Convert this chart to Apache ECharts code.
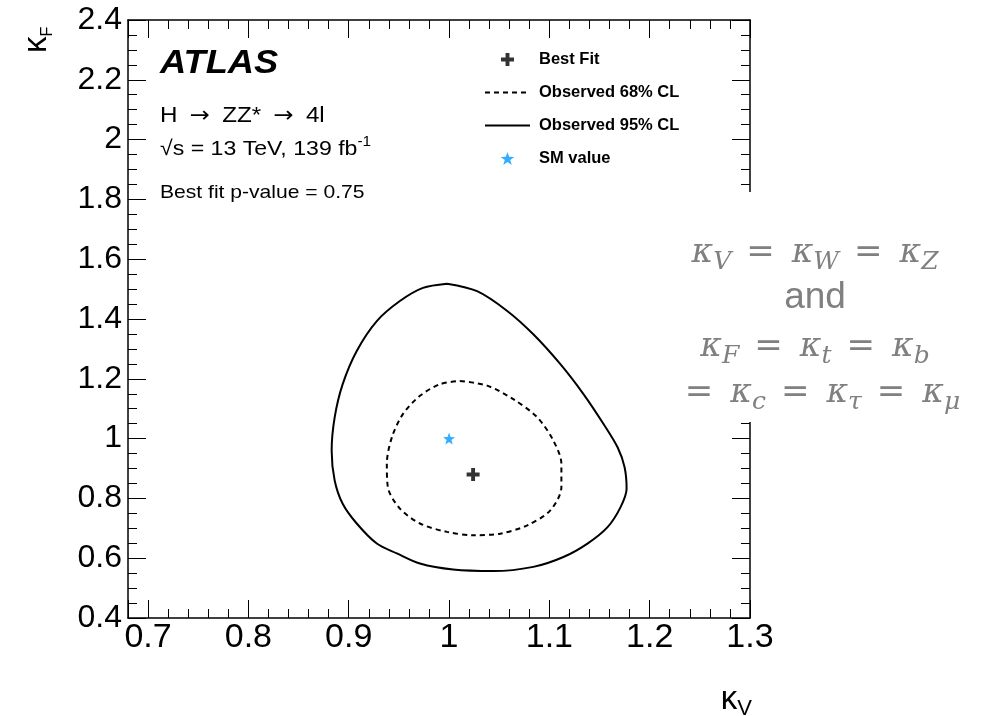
<!DOCTYPE html>
<html>
<head>
<meta charset="utf-8">
<script src="https://cdn.jsdelivr.net/npm/echarts@6/dist/echarts.min.js"></script>
<style>
  html, body { margin: 0; padding: 0; background: #ffffff; }
  #chart { width: 984px; height: 716px; }
</style>
</head>
<body>
<div id="chart"></div>
<script>
// Observed 95% CL contour in the (kappa_V, kappa_F) plane
const obs95 = [
  [0.998, 1.518], [1.028, 1.493], [1.058, 1.427], [1.084, 1.349], [1.111, 1.249],
  [1.134, 1.149], [1.154, 1.049], [1.168, 0.971], [1.175, 0.904], [1.177, 0.832],
  [1.171, 0.771], [1.158, 0.704], [1.138, 0.649], [1.114, 0.604], [1.084, 0.571],
  [1.044, 0.557], [1.004, 0.562], [0.971, 0.582], [0.948, 0.616], [0.928, 0.649],
  [0.908, 0.716], [0.894, 0.782], [0.886, 0.860], [0.883, 0.960], [0.886, 1.071],
  [0.894, 1.182], [0.908, 1.293], [0.928, 1.393], [0.951, 1.460], [0.974, 1.504],
  [0.998, 1.518]
];
// Observed 68% CL contour
const obs68 = [
  [1.011, 1.193], [1.038, 1.177], [1.064, 1.132], [1.088, 1.071], [1.104, 0.993],
  [1.112, 0.916], [1.112, 0.838], [1.101, 0.760], [1.078, 0.710], [1.051, 0.682],
  [1.024, 0.677], [0.998, 0.688], [0.971, 0.716], [0.951, 0.766], [0.939, 0.838],
  [0.938, 0.916], [0.943, 1.004], [0.954, 1.082], [0.971, 1.143], [0.991, 1.182],
  [1.011, 1.193]
];
const bestFit = [[1.024, 0.88]];
const smValue = [[1.0, 1.0]];
const legendNames = ['Best Fit', 'Observed 68% CL', 'Observed 95% CL', 'SM value'];
const xRange = [0.68, 1.3];
const yRange = [0.4, 2.4];
const yStep = 0.2;

const SANS = 'Liberation Sans, Arial, Helvetica, sans-serif';
const GRAY = '#808080';
const CROSS = 'path://M3.5,0H6.5V3.5H10V6.5H6.5V10H3.5V6.5H0V3.5H3.5Z';
const STAR = 'path://M10,0L12.35,6.76L19.51,6.91L13.8,11.24L15.88,18.09L10,14L4.12,18.09L6.2,11.24L0.49,6.91L7.65,6.76Z';
const TEXT_STRETCH = 1.1;

// Frame axis: ticks pointing inwards, labels only on bottom/left
function frameAxis(extra, labelSize) {
  return Object.assign({
    type: 'value',
    axisLine: { show: true, onZero: false, lineStyle: { color: '#000', width: 1.5 } },
    axisTick: { show: true, inside: true, length: 18, lineStyle: { color: '#000', width: 1 } },
    splitLine: { show: false },
    minorSplitLine: { show: false },
    axisLabel: labelSize
      ? { show: true, color: '#000', fontFamily: SANS, fontSize: labelSize }
      : { show: false }
  }, extra);
}
function minor(n) {
  return { show: true, splitNumber: n, length: 9, lineStyle: { color: '#000', width: 1 } };
}

const xBottom = frameAxis({ position: 'bottom', min: xRange[0], max: xRange[1], splitNumber: 6, minorTick: minor(5) }, 34);
xBottom.axisLabel.margin = 3;
xBottom.axisLabel.showMinLabel = false;
const xTop = frameAxis({ position: 'top', min: xRange[0], max: xRange[1], splitNumber: 6, minorTick: minor(5) }, 0);
const yLeft = frameAxis({ position: 'left', min: yRange[0], max: yRange[1], interval: yStep, minorTick: minor(4) }, 32);
yLeft.axisLabel.margin = 6;
const yRight = frameAxis({ position: 'right', min: yRange[0], max: yRange[1], interval: yStep, minorTick: minor(4) }, 0);

// Rich styles for the coupling relations
const mathRich = {
  k: { fontFamily: 'DejaVu Serif', fontStyle: 'italic', fontSize: 33, lineHeight: 44, fill: GRAY },
  s: { fontFamily: 'DejaVu Serif', fontStyle: 'italic', fontSize: 25, lineHeight: 44, fill: GRAY, padding: [18, 0, 0, 0] },
  e: { fontFamily: 'DejaVu Sans', fontSize: 34, lineHeight: 44, fill: GRAY, padding: [0, 17, 0, 15] }
};

const hideDot = { color: 'rgba(0,0,0,0)', borderColor: 'rgba(0,0,0,0)', borderWidth: 0, opacity: 0 };

const option = {
  animation: false,
  backgroundColor: '#ffffff',
  grid: { left: 128, top: 20, width: 622, height: 598, containLabel: false },
  xAxis: [xBottom, xTop],
  yAxis: [yLeft, yRight],
  legend: {
    orient: 'vertical', left: 484, top: 51, padding: 0,
    itemWidth: 45, itemHeight: 13, itemGap: 16, selectedMode: false,
    textStyle: { fontFamily: SANS, fontWeight: 'bold', fontSize: 16.5, color: '#000', lineHeight: 16, padding: [0, 0, 0, 4] },
    data: [
      { name: legendNames[0] },
      { name: legendNames[1], itemStyle: hideDot },
      { name: legendNames[2], itemStyle: hideDot },
      { name: legendNames[3] }
    ]
  },
  series: [
    {
      name: 'Observed 95% CL', type: 'line', data: obs95, smooth: 0.3,
      symbol: 'none', showSymbol: false, z: 3,
      itemStyle: { color: '#000' },
      lineStyle: { color: '#000', width: 2, type: 'solid' }
    },
    {
      name: 'Observed 68% CL', type: 'line', data: obs68, smooth: 0.3,
      symbol: 'none', showSymbol: false, z: 3,
      itemStyle: { color: '#000' },
      lineStyle: { color: '#000', width: 2, type: [5, 4] }
    },
    {
      name: 'Best Fit', type: 'scatter', data: bestFit, symbol: CROSS, symbolSize: 13, z: 4,
      itemStyle: { color: '#000' }
    },
    {
      name: 'SM value', type: 'scatter', data: smValue, symbol: STAR, symbolSize: 12, z: 4,
      itemStyle: { color: '#0099ff' }
    }
  ],
  graphic: [
    { type: 'text', x: 160, y: 64, z: 20, scaleX: TEXT_STRETCH,
      style: { text: 'ATLAS', fontFamily: SANS, fontWeight: 'bold', fontStyle: 'italic', fontSize: 33, fill: '#000', verticalAlign: 'middle' } },
    { type: 'text', x: 160, y: 116, z: 20, scaleX: TEXT_STRETCH,
      style: { text: '{m|H }{a|\u2192}{m| ZZ* }{a|\u2192}{m| 4l}', verticalAlign: 'middle',
        rich: {
          m: { fontFamily: SANS, fontSize: 22, fill: '#000', lineHeight: 28 },
          a: { fontFamily: 'DejaVu Sans', fontSize: 22, fill: '#000', lineHeight: 28, padding: [0, 5, 0, 5] }
        } } },
    { type: 'text', x: 160, y: 149, z: 20, scaleX: TEXT_STRETCH,
      style: { text: '{m|\u221As = 13 TeV, 139 fb}{u|-1}', verticalAlign: 'middle',
        rich: {
          m: { fontFamily: SANS, fontSize: 21, fill: '#000', lineHeight: 28 },
          u: { fontFamily: SANS, fontSize: 14, fill: '#000', lineHeight: 28, padding: [0, 0, 14, 0] }
        } } },
    { type: 'text', x: 160, y: 193, z: 20, scaleX: 1.11,
      style: { text: 'Best fit p-value = 0.75', fontFamily: SANS, fontSize: 19, fill: '#000', verticalAlign: 'middle' } },
    // axis titles
    { type: 'text', x: 37, y: 53, rotation: Math.PI / 2, z: 20,
      style: { text: '{k|\u03BA}{s|F}', align: 'left', verticalAlign: 'middle',
        rich: {
          k: { fontFamily: SANS, fontSize: 33, fill: '#000', lineHeight: 40 },
          s: { fontFamily: SANS, fontSize: 16, fill: '#000', lineHeight: 40, padding: [22, 0, 0, 0] }
        } } },
    { type: 'text', x: 752, y: 700, z: 20,
      style: { text: '{k|\u03BA}{s|V}', align: 'right', verticalAlign: 'middle',
        rich: {
          k: { fontFamily: SANS, fontSize: 33, fill: '#000', lineHeight: 40 },
          s: { fontFamily: SANS, fontSize: 22, fill: '#000', lineHeight: 40, padding: [18, 0, 0, 0] }
        } } },
    // panel holding the coupling relations
    { type: 'rect', z: 30, shape: { x: 655, y: 192, width: 329, height: 230 },
      style: { fill: '#ffffff' } },
    { type: 'text', x: 815, y: 253, z: 31,
      style: { text: '{k|\u03BA}{s|V}{e|=}{k|\u03BA}{s|W}{e|=}{k|\u03BA}{s|Z}', align: 'center', verticalAlign: 'middle', rich: mathRich } },
    { type: 'text', x: 815, y: 298, z: 31,
      style: { text: 'and', fontFamily: SANS, fontSize: 37, fill: GRAY, align: 'center', verticalAlign: 'middle' } },
    { type: 'text', x: 815, y: 347, z: 31,
      style: { text: '{k|\u03BA}{s|F}{e|=}{k|\u03BA}{s|t}{e|=}{k|\u03BA}{s|b}', align: 'center', verticalAlign: 'middle', rich: mathRich } },
    { type: 'text', x: 815, y: 393, z: 31,
      style: { text: '{e|=}{k|\u03BA}{s|c}{e|=}{k|\u03BA}{s|\u03C4}{e|=}{k|\u03BA}{s|\u03BC}', align: 'center', verticalAlign: 'middle', rich: mathRich } }
  ]
};

const chart = echarts.init(document.getElementById('chart'), null, { renderer: 'canvas' });
chart.setOption(option);
</script>
</body>
</html>
